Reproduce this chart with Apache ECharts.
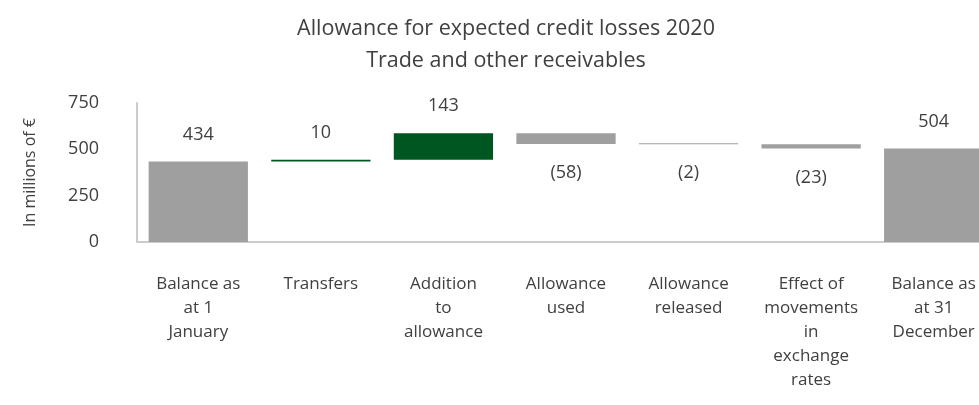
<!DOCTYPE html>
<html>
  <head>
    <meta charset="utf-8" />
    <title>Allowance for expected credit losses 2020</title>
    <script src="https://cdn.jsdelivr.net/npm/echarts@6/dist/echarts.min.js"></script>
    <style>
      html, body { margin: 0; padding: 0; overflow: hidden; background: #fff; }
    </style>
  </head>
  <body>
    <div id="chart" style="width: 1012px; height: 405px;"></div>
  </body>
  <script>
    var categories = [
      'Balance as\nat 1\nJanuary',
      'Transfers',
      'Addition\nto\nallowance',
      'Allowance\nused',
      'Allowance\nreleased',
      'Effect of\nmovements\nin\nexchange\nrates',
      'Balance as\nat 31\nDecember'
    ]
    var amounts = [434, 10, 143, -58, -2, -23, 504]
    var isTotal = [true, false, false, false, false, false, true]
    var yTicks = [0, 250, 500, 750]

    var grey = '#9f9f9f'
    var green = '#005620'
    var textColor = '#404040'
    var font = 'Open Sans'

    // waterfall: transparent base + visible step
    var baseData = []
    var stepData = []
    var running = 0
    for (var i = 0; i < amounts.length; i++) {
      var v = amounts[i]
      var item = {}
      if (isTotal[i]) {
        baseData.push(0)
        item.value = v
        item.itemStyle = { color: grey }
        running = v
      } else if (v >= 0) {
        baseData.push(running)
        item.value = v
        item.itemStyle = { color: green }
        running += v
      } else {
        running += v
        baseData.push(running)
        item.value = -v
        item.itemStyle = { color: grey }
      }
      item.label = {
        position: v >= 0 ? 'top' : 'bottom',
        distance: v >= 0 ? 18 : 20
      }
      stepData.push(item)
    }

    var myChart = echarts.init(document.getElementById('chart'))
    var option = {
      animation: false,
      title: {
        text: 'Allowance for expected credit losses 2020\nTrade and other receivables',
        left: 'center',
        top: 8,
        textStyle: {
          color: textColor,
          fontFamily: font,
          fontWeight: 'normal',
          fontSize: 21.5,
          lineHeight: 32
        }
      },
      grid: { left: 137, right: 17, top: 103, bottom: 163 },
      xAxis: {
        type: 'category',
        data: categories,
        axisLine: { lineStyle: { color: '#cccccc', width: 2 } },
        axisTick: { show: false },
        axisLabel: {
          interval: 0,
          margin: 30,
          color: textColor,
          fontFamily: font,
          fontSize: 17,
          lineHeight: 24
        }
      },
      yAxis: {
        type: 'value',
        min: yTicks[0],
        max: yTicks[yTicks.length - 1],
        interval: yTicks[1] - yTicks[0],
        name: 'In millions of €',
        nameLocation: 'middle',
        nameRotate: 90,
        nameGap: 99,
        nameTextStyle: { color: textColor, fontFamily: font, fontSize: 16 },
        axisLine: { show: true, lineStyle: { color: '#cccccc', width: 2 } },
        axisTick: { show: false },
        splitLine: { show: false },
        axisLabel: {
          margin: 38,
          color: textColor,
          fontFamily: font,
          fontSize: 18
        }
      },
      series: [
        {
          type: 'bar',
          stack: 'wf',
          data: baseData,
          itemStyle: { color: 'transparent' },
          silent: true,
          barWidth: '81%'
        },
        {
          type: 'bar',
          stack: 'wf',
          data: stepData,
          barWidth: '81%',
          barMinHeight: 1,
          label: {
            show: true,
            color: textColor,
            fontFamily: font,
            fontSize: 18,
            formatter: function (p) {
              var a = amounts[p.dataIndex]
              return a < 0 ? '(' + (-a) + ')' : String(a)
            }
          }
        }
      ]
    }
    option && myChart.setOption(option)
  </script>
</html>
